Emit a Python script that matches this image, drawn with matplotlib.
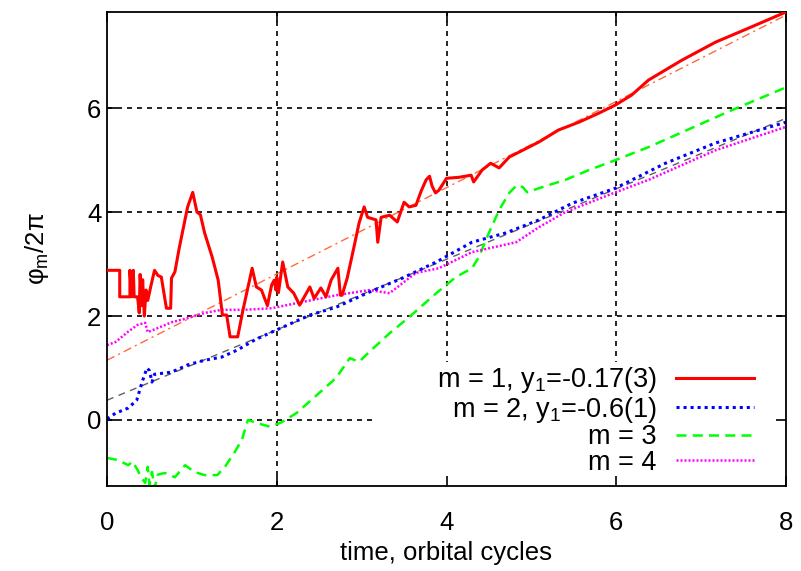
import numpy as np
import matplotlib
matplotlib.use("Agg")
import matplotlib.pyplot as plt
from matplotlib.patches import Rectangle

plt.rcParams['font.family'] = ['Liberation Sans', 'DejaVu Sans']
plt.rcParams['mathtext.fontset'] = 'custom'
plt.rcParams['mathtext.rm'] = 'Liberation Sans'
plt.rcParams['mathtext.it'] = 'Liberation Sans:italic'

# ---- data ----
m1_x = [0, 0.15, 0.15, 0.27, 0.27, 0.29, 0.31, 0.32, 0.36, 0.38, 0.39, 0.41, 0.42, 0.44, 0.46, 0.48,
        0.52, 0.56, 0.6, 0.64, 0.7, 0.75, 0.76, 0.8, 0.85, 0.9, 0.95, 1.01, 1.06, 1.1, 1.15, 1.24,
        1.31, 1.36, 1.41, 1.45, 1.54, 1.6, 1.71, 1.76, 1.82, 1.89, 1.94, 1.97, 1.99, 2.0, 2.02, 2.07,
        2.13, 2.2, 2.27, 2.39, 2.44, 2.52, 2.58, 2.64, 2.72, 2.75, 2.77, 2.83, 2.91, 2.97, 3.03, 3.07,
        3.17, 3.19, 3.23, 3.33, 3.42, 3.5, 3.56, 3.64, 3.7, 3.76, 3.8, 3.83, 3.87, 3.91, 4.0, 4.15,
        4.29, 4.32, 4.42, 4.52, 4.62, 4.74, 4.85, 5.09, 5.32, 5.56, 5.79, 5.99, 6.18, 6.38, 6.77,
        7.17, 7.56, 8.0]
m1_y = [2.88, 2.88, 2.37, 2.37, 2.88, 2.37, 2.88, 2.37, 2.37, 2.06, 2.8, 2.2, 2.7, 2.0, 2.5, 2.3,
        2.6, 2.88, 2.78, 2.75, 2.15, 2.15, 2.73, 2.85, 3.3, 3.7, 4.1, 4.38, 4.0, 3.95, 3.6, 3.13,
        2.69, 2.02, 2.02, 1.6, 1.6, 2.1, 2.92, 2.56, 2.5, 2.2, 2.6, 2.69, 2.5, 2.75, 2.45, 3.04,
        2.56, 2.44, 2.21, 2.56, 2.34, 2.54, 2.37, 2.69, 2.92, 2.4, 2.4, 2.73, 3.33, 3.79, 4.1, 3.9,
        3.85, 3.42, 3.9, 3.94, 3.81, 4.19, 4.1, 4.13, 4.4, 4.62, 4.69, 4.5, 4.37, 4.42, 4.65, 4.67,
        4.71, 4.58, 4.81, 4.94, 4.85, 5.06, 5.15, 5.35, 5.58, 5.73, 5.9, 6.06, 6.25, 6.54, 6.92,
        7.27, 7.54, 7.85]

m2_x = [0, 0.1, 0.25, 0.35, 0.41, 0.47, 0.5, 0.53, 0.56, 0.76, 0.95, 1.15, 1.35, 1.54, 1.74, 1.94,
        2.39, 2.7, 3.09, 3.48, 3.88, 4.3, 4.7, 5.09, 5.48, 5.99, 6.58, 7.17, 8.0]
m2_y = [0.02, 0.13, 0.23, 0.38, 0.71, 1.0, 0.95, 0.73, 0.88, 0.92, 1.06, 1.15, 1.21, 1.35, 1.54, 1.69,
        2.02, 2.17, 2.46, 2.73, 3.04, 3.42, 3.6, 3.85, 4.17, 4.46, 4.94, 5.33, 5.73]

m3_x = [0, 0.13, 0.25, 0.3, 0.36, 0.4, 0.45, 0.48, 0.5, 0.53, 0.56, 0.6, 0.68, 0.8, 0.92, 1.03,
        1.15, 1.3, 1.39, 1.5, 1.59, 1.66, 1.77, 1.92, 2.05, 2.23, 2.5, 2.7, 2.86, 2.97, 3.09, 3.33,
        3.56, 3.88, 4.11, 4.3, 4.38, 4.5, 4.62, 4.74, 4.83, 4.9, 4.95, 5.09, 5.4, 5.68, 5.99, 6.38,
        7.36, 8.0]
m3_y = [-0.73, -0.77, -0.87, -0.8, -0.96, -1.1, -1.21, -0.9, -1.25, -1.0, -1.31, -1.05, -1.02, -1.1,
        -0.87, -1.0, -1.06, -1.06, -0.9, -0.63, -0.38, 0.0, -0.06, -0.13, -0.05, 0.13, 0.52, 0.81,
        1.19, 1.12, 1.31, 1.67, 1.98, 2.44, 2.75, 2.92, 3.13, 3.6, 4.04, 4.37, 4.52, 4.48, 4.38,
        4.46, 4.62, 4.81, 5.0, 5.25, 5.96, 6.4]

m4_x = [0, 0.1, 0.25, 0.36, 0.45, 0.48, 0.6, 0.76, 0.95, 1.15, 1.35, 1.62, 1.94, 2.3, 2.7, 3.09,
        3.33, 3.48, 3.64, 3.91, 4.3, 4.82, 5.09, 5.4, 5.99, 6.38, 7.17, 8.0]
m4_y = [1.44, 1.5, 1.7, 1.83, 1.87, 1.69, 1.77, 1.88, 1.96, 2.06, 2.12, 2.12, 2.15, 2.27, 2.4, 2.5,
        2.44, 2.63, 2.83, 2.92, 3.23, 3.42, 3.71, 4.0, 4.38, 4.62, 5.19, 5.64]

# linear fits (intercept, slope)
fit1 = (1.15, 0.83)
fit2 = (0.38, 0.678)

labels = ["m = 1, y$_\\mathregular{1}$=-0.17(3)", "m = 2, y$_\\mathregular{1}$=-0.6(1)", "m = 3", "m = 4"]
xticks = [0, 2, 4, 6, 8]
yticks = [0, 2, 4, 6]

FS = 18.5
LFS = 19.5

fig = plt.figure(figsize=(8.01, 5.71), dpi=100)
ax = fig.add_axes([107/801, 1-486/571, (786-107)/801, (486-12)/571])
ax.set_xlim(0, 8)
ax.set_ylim(-1.27, 7.85)

# grid drawn manually beneath an opaque legend area
for xv in xticks[1:-1]:
    ax.axvline(xv, color='black', lw=1.2, ls=(0, (3, 3)), zorder=0.5)
for yv in yticks:
    ax.axhline(yv, color='black', lw=1.2, ls=(0, (3, 3)), zorder=0.5)
ax.add_patch(Rectangle((0.395, 0.0), 0.605, 0.262, transform=ax.transAxes,
                       facecolor='white', edgecolor='none', zorder=0.8))

xf = np.array([0, 8])
ax.plot(xf, fit1[0] + fit1[1]*xf, color='#ff6a3a', lw=1.0, ls=(0, (6, 3, 1.5, 3)), zorder=1.5)
ax.plot(xf, fit2[0] + fit2[1]*xf, color='#606060', lw=1.0, ls=(0, (5, 4)), zorder=1.5)

l1, = ax.plot(m1_x, m1_y, color='#ff0000', lw=2.2, zorder=3)
l2, = ax.plot(m2_x, m2_y, color='#0000ff', lw=2.2, ls=(0, (1.0, 1.3)), zorder=2.5)
l3, = ax.plot(m3_x, m3_y, color='#00ff00', lw=1.8, ls=(0, (4, 2.5)), zorder=2)
l4, = ax.plot(m4_x, m4_y, color='#ff00ff', lw=1.8, ls=(0, (0.8, 0.8)), zorder=2.2)

leg = ax.legend([l1, l2, l3, l4], labels, loc='lower right', bbox_to_anchor=(0.953, 0.022),
                frameon=False, markerfirst=False, fontsize=LFS, handlelength=2.9,
                handletextpad=0.7, labelspacing=-0.02, borderpad=0.0, borderaxespad=0.0)

ax.set_xticks(xticks)
ax.set_yticks(yticks)
ax.tick_params(direction='in', length=7, width=1.2, top=True, right=True, labelsize=FS)
ax.tick_params(axis='x', pad=18)
ax.tick_params(axis='y', pad=4)
for s in ax.spines.values():
    s.set_linewidth(1.3)
ax.set_xlabel("time, orbital cycles", fontsize=FS, labelpad=4)
ax.set_ylabel("φ$_\\mathregular{m}$/2π", fontsize=FS, labelpad=26)

fig.savefig("out.png", dpi=100)
